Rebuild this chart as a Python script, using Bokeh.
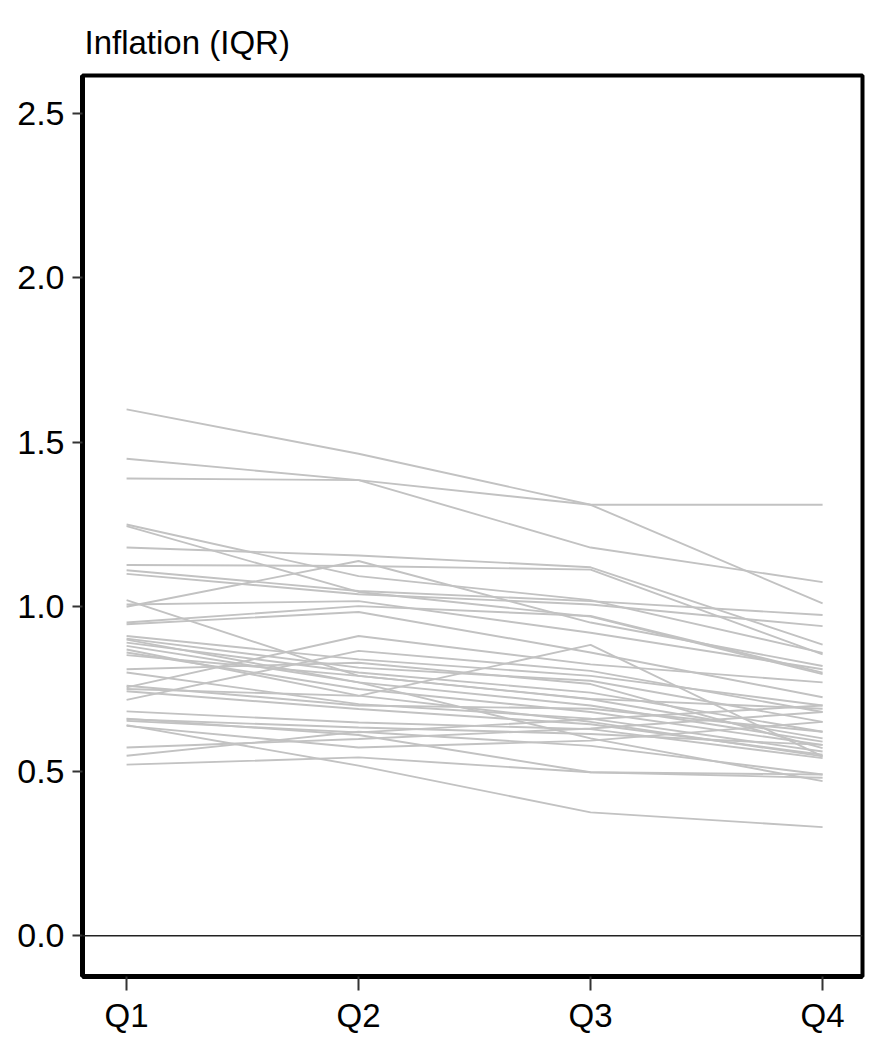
from bokeh.plotting import figure
from bokeh.models import FixedTicker, Range1d, Span, NumeralTickFormatter
from bokeh.embed import file_html
from bokeh.resources import INLINE

quarters = ["Q1", "Q2", "Q3", "Q4"]
y_ticks = [0.0, 0.5, 1.0, 1.5, 2.0, 2.5]

# one series per line: values at Q1..Q4
s01 = [1.60, 1.465, 1.31, 1.01]
s02 = [1.45, 1.385, 1.31, 1.31]
s03 = [1.39, 1.385, 1.18, 1.075]
s04 = [1.25, 1.093, 1.02, 0.86]
s05 = [1.245, 1.045, 0.97, 0.795]
s06 = [1.18, 1.156, 1.12, 0.885]
s07 = [1.127, 1.124, 1.113, 0.855]
s08 = [1.111, 1.048, 1.017, 0.975]
s09 = [1.10, 1.038, 1.007, 0.941]
s10 = [1.00, 1.139, 0.952, 0.82]
s11 = [1.02, 0.79, 0.72, 0.69]
s12 = [1.007, 1.017, 0.921, 0.81]
s13 = [0.952, 1.002, 0.972, 0.80]
s14 = [0.947, 0.984, 0.861, 0.725]
s15 = [0.911, 0.84, 0.79, 0.70]
s16 = [0.903, 0.815, 0.775, 0.65]
s17 = [0.891, 0.80, 0.739, 0.62]
s18 = [0.881, 0.77, 0.70, 0.59]
s19 = [0.861, 0.75, 0.68, 0.58]
s20 = [0.853, 0.79, 0.719, 0.60]
s21 = [0.755, 0.911, 0.825, 0.77]
s22 = [0.717, 0.866, 0.805, 0.68]
s23 = [0.75, 0.729, 0.884, 0.545]
s24 = [0.81, 0.83, 0.765, 0.57]
s25 = [0.80, 0.704, 0.66, 0.56]
s26 = [0.743, 0.689, 0.643, 0.55]
s27 = [0.682, 0.648, 0.628, 0.54]
s28 = [0.658, 0.633, 0.613, 0.58]
s29 = [0.653, 0.618, 0.658, 0.70]
s30 = [0.638, 0.572, 0.593, 0.65]
s31 = [0.572, 0.598, 0.63, 0.68]
s32 = [0.547, 0.62, 0.577, 0.49]
s33 = [0.52, 0.542, 0.497, 0.48]
s34 = [0.64, 0.517, 0.375, 0.33]
s35 = [0.90, 0.77, 0.60, 0.47]
s36 = [0.87, 0.73, 0.65, 0.545]
s37 = [0.66, 0.61, 0.497, 0.49]
s38 = [0.76, 0.70, 0.69, 0.62]

series = [s01, s02, s03, s04, s05, s06, s07, s08, s09, s10, s11, s12, s13,
          s14, s15, s16, s17, s18, s19, s20, s21, s22, s23, s24, s25, s26,
          s27, s28, s29, s30, s31, s32, s33, s34, s35, s36, s37, s38]

xpos = [i + 1 for i in range(len(quarters))]

FONT = "Liberation Sans"

p = figure(width=870, height=1036, output_backend="svg", toolbar_location=None,
           x_range=Range1d(0.81, 4.172), y_range=Range1d(-0.124, 2.615),
           min_border_left=82, min_border_right=8, min_border_top=75,
           min_border_bottom=58)

p.title.text = "Inflation (IQR)"
p.title.text_font = FONT
p.title.text_font_size = "33px"
p.title.text_font_style = "normal"
p.title.text_color = "black"
p.title.align = "left"
p.title.offset = 2
p.title.standoff = 30

for s in series:
    p.line(xpos, s, line_color="#c2c2c2", line_width=1.9)

p.add_layout(Span(location=0, dimension="width", line_color="#222222", line_width=1.4))

p.xgrid.visible = False
p.ygrid.visible = False
p.outline_line_color = "black"
p.outline_line_width = 4
p.outline_line_alpha = 1.0

p.xaxis.ticker = FixedTicker(ticks=xpos)
p.xaxis.major_label_overrides = {x: q for x, q in zip(xpos, quarters)}
p.yaxis.ticker = FixedTicker(ticks=y_ticks)
p.yaxis.formatter = NumeralTickFormatter(format="0.0")

for ax in (p.xaxis[0], p.yaxis[0]):
    ax.axis_line_color = "black"
    ax.axis_line_width = 5
    ax.major_tick_line_color = "#333333"
    ax.major_tick_line_width = 2
    ax.major_tick_in = 0
    ax.minor_tick_line_color = None
    ax.major_label_text_font = FONT
    ax.major_label_text_color = "black"

p.xaxis.major_label_text_font_size = "33px"
p.yaxis.major_label_text_font_size = "34px"
p.xaxis.major_tick_out = 14
p.xaxis.major_label_standoff = 6
p.yaxis.major_tick_out = 10
p.yaxis.major_label_standoff = 8

open("out.html", "w").write(file_html(p, INLINE))
